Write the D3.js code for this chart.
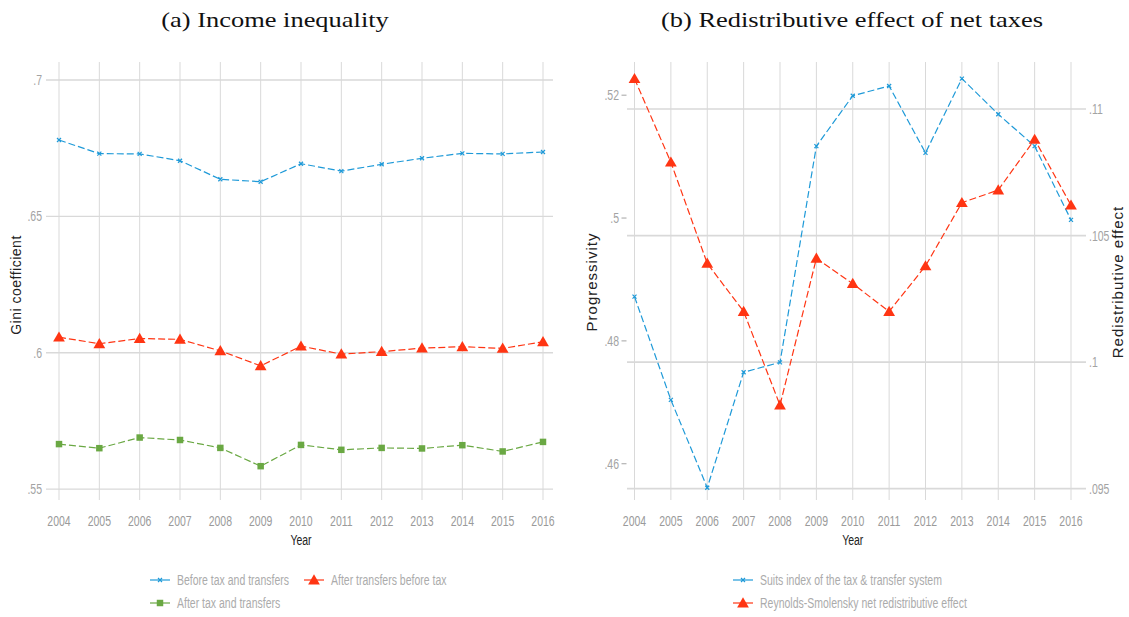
<!DOCTYPE html>
<html><head><meta charset="utf-8">
<script src="https://cdn.jsdelivr.net/npm/d3@7"></script>
<style>
body{margin:0;background:#fff;}
svg{display:block;}
</style></head>
<body>
<svg id="chart" width="1129" height="617"></svg>
<script>
// ---------- DATA ----------
const years = [2004,2005,2006,2007,2008,2009,2010,2011,2012,2013,2014,2015,2016];
const beforeTaxTransfers = [0.678,0.673,0.6729,0.6704,0.6636,0.6627,0.6693,0.6666,0.6691,0.6713,0.6731,0.6729,0.6736];
const afterTransfersBeforeTax = [0.6057,0.6033,0.6052,0.6049,0.6007,0.5952,0.6024,0.5995,0.6004,0.6017,0.6022,0.6016,0.6040];
const afterTaxTransfers = [0.5665,0.5650,0.5689,0.5680,0.5651,0.5584,0.5662,0.5644,0.5651,0.5649,0.5661,0.5638,0.5673];
const suitsIndex = [0.4872,0.4704,0.4561,0.4749,0.4765,0.5117,0.5199,0.5215,0.5106,0.5227,0.5169,0.5117,0.4997];
const reynoldsSmolensky = [0.1112,0.1079,0.1039,0.1020,0.0983,0.1041,0.1031,0.1020,0.1038,0.1063,0.1068,0.1088,0.1062];
const giniTicks = [0.55,0.6,0.65,0.7];
const progTicks = [0.46,0.48,0.5,0.52];
const redisTicks = [0.095,0.1,0.105,0.11];
const titles = ["(a) Income inequality","(b) Redistributive effect of net taxes"];
const legendA = ["Before tax and transfers","After transfers before tax","After tax and transfers"];
const legendB = ["Suits index of the tax & transfer system","Reynolds-Smolensky net redistributive effect"];

// ---------- STYLE ----------
const BLUE="#1f9ad8", RED="#ff3513", GREEN="#6aa843";
const GRID="#d9d9d9", TICKC="#a3a3a3";
const SANS='"Liberation Sans",Arial,sans-serif';
const SERIF='"Liberation Serif","Times New Roman",serif';
const NX=0.7; // horizontal condensing of narrow labels
const svg = d3.select("#chart");
const fmt = v => { let s = String(+v.toFixed(4)); return s.replace(/^0\./,"."); };

const plotTop=62, plotBottom=500;
const triangle = d3.symbol().type(d3.symbolTriangle).size(60);
const square = d3.symbol().type(d3.symbolSquare).size(42);

function narrowText(g, x, y, str, anchor, color, size){
  return g.append("text").attr("transform",`translate(${x},${y}) scale(${NX},1)`)
    .attr("text-anchor",anchor).style("font-family",SANS).style("font-size",(size||15)+"px")
    .attr("fill",color).text(str);
}
function titleText(g, x, str){
  g.append("text").attr("transform",`translate(${x},27) scale(1.26,1)`)
   .attr("text-anchor","middle").style("font-family",SERIF).style("font-size","21px")
   .attr("fill","#111").text(str);
}
function drawMarker(g, type, color, x, y){
  if(type==="x"){
    g.append("path").attr("d",`M${x-2},${y-2}L${x+2},${y+2}M${x-2},${y+2}L${x+2},${y-2}`)
     .attr("stroke",color).attr("stroke-width",1.2).attr("fill","none");
  } else if(type==="tri"){
    g.append("path").attr("d",triangle()).attr("transform",`translate(${x},${y+1})`).attr("fill",color);
  } else {
    g.append("path").attr("d",square()).attr("transform",`translate(${x},${y})`).attr("fill",color);
  }
}
function drawSeries(g, x, y, vals, color, type){
  const line = d3.line().x((d,i)=>x(years[i])).y(d=>y(d));
  g.append("path").datum(vals).attr("d",line).attr("fill","none")
   .attr("stroke",color).attr("stroke-width",1.2).attr("stroke-dasharray","7,3");
  vals.forEach((v,i)=>drawMarker(g,type,color,x(years[i]),y(v)));
}
function xAxis(g, x, y0, y1){
  years.forEach(yr=>{
    g.append("line").attr("x1",x(yr)).attr("x2",x(yr)).attr("y1",y0).attr("y2",y1)
     .attr("stroke",GRID).attr("stroke-width",1);
    narrowText(g,x(yr),526,yr,"middle","#9a9a9a");
  });
  narrowText(g,(x(years[0])+x(years[years.length-1]))/2,545,"Year","middle","#222");
}
function legendItem(g, lx, ly, color, type, label){
  g.append("line").attr("x1",lx).attr("x2",lx+20).attr("y1",ly).attr("y2",ly)
   .attr("stroke",color).attr("stroke-width",1.2);
  drawMarker(g,type,color,lx+10,ly);
  narrowText(g,lx+27,ly+5,label,"start","#ababab");
}

// ---------- PANEL A ----------
{
  const g = svg.append("g");
  const x = d3.scaleLinear().domain([2004,2016]).range([59,543]);
  const y = d3.scaleLinear().domain([0.5460,0.7066]).range([plotBottom,plotTop]);
  xAxis(g,x,plotTop,plotBottom);
  giniTicks.forEach(t=>{
    g.append("line").attr("x1",46).attr("x2",553).attr("y1",y(t)).attr("y2",y(t))
     .attr("stroke",GRID).attr("stroke-width",1.3);
    narrowText(g,42,y(t)+5,fmt(t),"end",TICKC);
  });
  g.append("text").attr("transform",`translate(21,285) rotate(-90)`).attr("text-anchor","middle")
   .style("font-family",SANS).style("font-size","14px").style("letter-spacing","0.5px")
   .attr("fill","#222").text("Gini coefficient");
  drawSeries(g,x,y,beforeTaxTransfers,BLUE,"x");
  drawSeries(g,x,y,afterTransfersBeforeTax,RED,"tri");
  drawSeries(g,x,y,afterTaxTransfers,GREEN,"sq");
  titleText(g,275,titles[0]);
  legendItem(g,150,580,BLUE,"x",legendA[0]);
  legendItem(g,304,580,RED,"tri",legendA[1]);
  legendItem(g,150,603,GREEN,"sq",legendA[2]);
}

// ---------- PANEL B ----------
{
  const g = svg.append("g");
  const x = d3.scaleLinear().domain([2004,2016]).range([634.5,1071]);
  const yL = d3.scaleLinear().domain([0.4541,0.5254]).range([plotBottom,plotTop]);
  const yR = d3.scaleLinear().domain([0.09455,0.11186]).range([plotBottom,plotTop]);
  xAxis(g,x,plotTop,plotBottom);
  redisTicks.forEach(t=>{
    g.append("line").attr("x1",627).attr("x2",1086).attr("y1",yR(t)).attr("y2",yR(t))
     .attr("stroke",GRID).attr("stroke-width",1.6);
    narrowText(g,1089,yR(t)+5,fmt(t),"start",TICKC);
  });
  progTicks.forEach(t=>{
    g.append("line").attr("x1",621.5).attr("x2",626.5).attr("y1",yL(t)).attr("y2",yL(t))
     .attr("stroke",TICKC).attr("stroke-width",1);
    narrowText(g,619,yL(t)+5,fmt(t),"end",TICKC);
  });
  g.append("text").attr("transform",`translate(597,282) rotate(-90)`).attr("text-anchor","middle")
   .style("font-family",SANS).style("font-size","15px").style("letter-spacing","1px")
   .attr("fill","#222").text("Progressivity");
  g.append("text").attr("transform",`translate(1123,282) rotate(-90)`).attr("text-anchor","middle")
   .style("font-family",SANS).style("font-size","15px").style("letter-spacing","1px")
   .attr("fill","#222").text("Redistributive effect");
  drawSeries(g,x,yL,suitsIndex,BLUE,"x");
  drawSeries(g,x,yR,reynoldsSmolensky,RED,"tri");
  titleText(g,852,titles[1]);
  legendItem(g,733,580,BLUE,"x",legendB[0]);
  legendItem(g,733,603,RED,"tri",legendB[1]);
}
</script>
</body></html>
